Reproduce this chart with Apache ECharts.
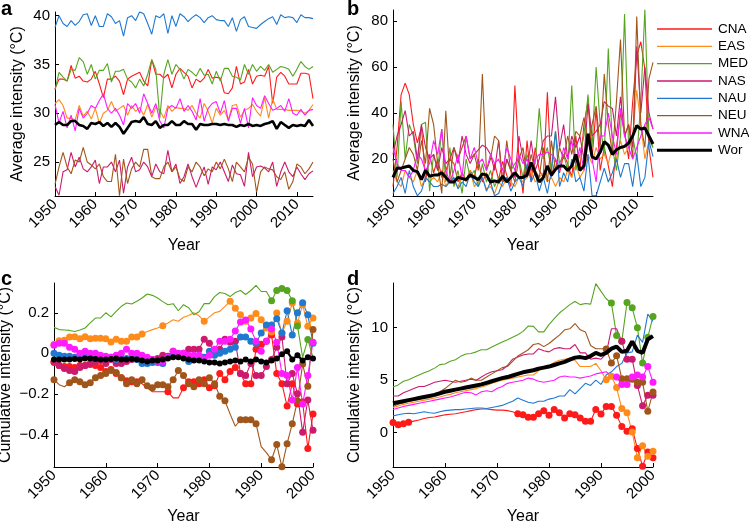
<!DOCTYPE html>
<html><head><meta charset="utf-8">
<script src="https://cdn.jsdelivr.net/npm/echarts@6/dist/echarts.min.js"></script>
<style>html,body{margin:0;padding:0;background:#fff}#chart{width:749px;height:522px}</style>
</head><body><div id="chart"></div>
<script>
const regions = ['CNA','EAS','MED','NAS','NAU','NEU','WNA','Wor'];
const regionColors = ['#ff1a1a','#ff8c1a','#56a520','#cc1a6e','#1f78d1','#a0561a','#ff1aff','#000000'];

// Panel a: average intensity (°C), 1950-2014
const aCNA=[32.5,33.5,33.5,33.3,34.9,33.6,33.8,33.3,33.2,33.5, 34.3,33.0,31.6,33.5,33.5,33.8,33.3,31.9,33.5,33.8, 34.0,34.2,33.3,32.8,35.5,34.0,34.0,33.6,34.0,32.6, 34.0,34.6,34.2,33.8,32.6,33.5,33.2,33.6,34.5,33.6, 33.7,33.6,32.1,32.0,32.6,34.8,33.0,33.2,34.5,33.0, 33.8,33.9,33.8,34.8,31.0,33.7,34.2,33.8,33.0,33.0, 33.0,34.1,34.1,34.0,31.5];
const aEAS=[31.0,31.4,30.8,29.5,29.5,29.3,30.8,29.7,30.2,29.4, 30.5,29.0,30.0,30.3,31.2,30.2,30.5,30.8,29.8,30.8, 30.2,30.6,29.8,30.9,29.6,30.6,30.3,29.5,30.8,30.2, 30.6,30.5,30.5,30.3,30.8,30.0,29.5,31.0,30.2,29.0, 30.5,29.8,30.3,29.3,30.8,30.9,29.6,30.3,30.5,30.9, 30.2,29.7,31.6,29.5,31.5,30.4,30.4,30.4,30.3,30.3, 30.3,30.2,30.0,30.3,30.9];
const aMED=[32.4,34.2,33.7,33.3,34.5,34.4,35.7,35.3,34.0,35.0, 33.5,34.4,34.4,35.1,33.2,34.3,34.3,34.5,33.5,33.2, 32.6,33.5,32.8,34.0,35.5,34.5,29.5,34.0,35.5,34.0, 35.0,34.5,33.5,34.5,34.2,33.8,34.6,33.9,34.0,33.0, 34.3,33.3,34.6,34.6,33.8,33.7,33.4,35.0,34.0,35.0, 34.3,34.8,34.4,35.0,34.2,34.5,34.8,34.7,34.5,33.8, 34.5,35.3,34.8,34.5,34.8];
const aNAS=[22.5,21.6,24.0,24.2,26.0,24.5,25.5,24.3,24.0,24.5, 25.2,22.8,24.5,24.5,25.0,24.0,25.2,21.8,24.5,25.5, 24.0,24.2,25.0,24.5,23.5,24.8,24.0,23.8,26.2,24.0, 24.8,22.8,23.5,24.8,23.5,22.4,23.5,24.5,22.7,24.5, 24.2,25.0,24.0,23.0,24.7,23.8,23.7,22.5,26.0,23.5, 24.5,24.6,24.4,24.0,25.0,22.5,24.0,25.0,24.0,23.5, 24.5,23.8,23.2,23.8,24.1];
const aNAU=[38.8,40.0,39.2,38.9,39.5,39.0,39.4,40.1,40.2,39.0, 40.0,38.9,38.9,40.2,39.9,39.2,39.5,37.9,39.8,40.0, 39.5,40.4,40.2,39.2,38.1,40.0,39.8,40.2,38.2,40.0, 38.9,40.2,39.9,39.4,39.8,40.1,39.8,39.3,39.8,40.0, 39.6,39.5,39.5,38.9,39.8,38.4,39.6,39.9,38.9,38.8, 38.7,39.1,39.4,39.7,39.9,39.1,40.1,39.8,39.9,39.8, 39.3,40.1,39.8,39.8,39.7];
const aNEU=[22.7,24.5,26.0,24.5,23.8,25.2,25.0,26.5,25.0,24.7, 24.3,24.8,23.5,23.0,23.0,25.8,21.55,25.3,22.8,24.3, 25.0,24.5,26.3,26.3,23.5,23.3,23.3,24.5,25.0,24.0, 24.5,23.3,23.0,24.5,24.0,25.0,24.5,23.6,24.3,24.0, 25.0,24.3,25.3,24.3,23.0,25.0,24.5,24.0,25.5,24.8, 21.9,24.0,24.5,24.3,24.2,23.5,23.2,24.0,22.2,23.0, 24.8,24.5,23.8,24.3,25.0];
const aWNA=[30.9,29.0,30.2,28.5,29.8,28.2,30.5,29.5,30.0,30.8, 30.5,31.3,32.0,30.5,30.0,30.5,29.8,28.8,31.0,30.5, 31.0,30.0,32.0,31.0,30.0,31.0,29.2,28.5,30.5,30.8, 30.5,31.5,30.2,30.8,30.2,29.3,31.5,29.2,30.5,31.0, 31.2,30.0,31.3,29.2,30.5,30.5,29.0,30.5,28.5,31.6, 30.8,30.5,31.8,31.0,30.3,30.5,30.8,30.2,31.5,30.0, 29.8,30.4,29.8,30.3,30.4];
const aWor=[28.8,29.1,28.8,28.8,29.2,29.2,28.8,28.7,28.4,29.0, 28.9,29.1,28.7,29.0,28.6,29.0,28.6,27.9,28.5,29.1, 29.2,29.1,29.6,28.9,28.8,29.2,28.5,28.8,28.8,29.2, 28.8,28.8,29.2,28.9,28.9,28.3,28.9,28.8,28.8,28.9, 28.9,28.8,28.9,28.8,28.8,28.6,28.8,28.7,28.9,28.7, 28.8,28.7,28.9,29.0,29.2,28.4,29.1,28.8,28.5,28.8, 28.7,28.8,28.7,29.3,28.7];

// Panel b: average intensity (°C), 1950-2014
const bCNA=[8,25,48,53,48,35,27,34,10,22, 14,20,12,15,20,18,10,14,11,15, 12,20,10,14,9,18,11,19,13,8, 52,20,5,28,10,25,15,12,49,12, 20,14,22,18,12,30,15,35,45,20, 42,15,25,17,8,25,40,32,20,45, 65,71,59,25,12];
const bEAS=[15,10,8,15,12,10,15,8,12,10, 12,10,15,8,12,10,8,12,10,15, 8,10,12,7,8,5,10,8,12,10, 8,12,10,12,15,10,12,14,10,12, 8,12,10,15,12,18,12,15,22,18, 25,20,22,18,25,20,28,22,25,30, 50,35,20,28,25];
const bMED=[35,12,45,20,35,30,18,35,36,6, 22,15,33,10,25,8,15,5,20,12, 15,8,18,10,15,8,12,10,20,15, 18,20,12,22,15,18,42,20,25,15, 32,18,22,15,52,15,22,30,48,25, 60,35,22,68,25,15,30,83,25,30, 20,45,85,30,25];
const bNAS=[22,30,35,41,30,32,20,35,25,20, 22,15,25,18,20,25,18,30,22,18, 22,24,26,25,22,15,28,10,20,15, 12,30,20,15,28,15,20,28,30,30, 47,25,35,20,30,25,30,20,44,30, 32,35,45,43,42,30,47,30,35,25, 69,40,60,40,33];
const bNAU=[5,8,12,5,15,8,4,6,12,10, 8,8,9,8,10,12,7,10,8,14, 10,8,12,6,10,4,5,10,12,6, 10,12,8,18,10,14,6,12,5,15, 32,8,14,10,20,10,12,6,22,4, 4,10,16,10,14,20,12,18,18,8, 22,8,12,28,21];
const bNEU=[20,10,15,20,25,22,15,28,18,42, 35,18,5,41,12,25,20,25,30,20, 22,15,57,15,20,30,28,10,28,15, 10,20,25,12,22,15,12,25,10,28, 15,25,20,30,22,32,30,38,28,35, 43,25,57,35,22,45,72,30,35,20, 82,35,25,55,62];
const bWNA=[25,18,15,15,12,15,22,20,15,18, 28,22,33,15,10,15,22,12,30,20, 25,18,20,15,22,18,20,15,25,20, 15,22,18,20,15,20,22,22,23,22, 20,15,25,20,28,18,25,15,28,20, 10,30,30,40,30,22,42,30,25,20, 25,30,35,38,33];
const bWor=[12,16,16,16.5,17,15,14.5,11,15,12.5, 13,13,14,12,10,10,12,11.5,11,13, 12,11,13.5,13,10,10.5,10,12.5,10,12, 14,12,12,13,18.5,14,10,12,17,13, 15.5,17,17,15,17,22,15,17,31,21, 20,23,27.5,26,22,24,25,25.5,27,30, 34.5,33,33.5,30,26.5];

// Panel c: cumulative intensity (°C), 1950-2000
const cCNA=[-0.045,-0.06,-0.065,-0.065,-0.07,-0.06,-0.06,-0.055,-0.06,-0.07, -0.09,-0.08,-0.1,-0.12,-0.135,-0.14,-0.14,-0.15,-0.17,-0.19, -0.19,-0.19,-0.19,-0.22,-0.22,-0.17,-0.14,-0.14,-0.15,-0.13, -0.17,-0.16,-0.1,-0.13,-0.09,-0.07,-0.1,-0.15,-0.15,0.02, 0.045,0.06,0.09,-0.1,-0.15,-0.26,-0.15,-0.25,-0.24,-0.47, -0.3];
const cEAS=[0.045,0.062,0.065,0.08,0.082,0.072,0.082,0.072,0.074,0.074, 0.072,0.056,0.07,0.059,0.059,0.08,0.08,0.095,0.108,0.117, 0.125,0.136,0.15,0.166,0.158,0.178,0.187,0.2,0.185,0.158, 0.18,0.2,0.207,0.232,0.257,0.223,0.19,0.158,0.174,0.197, 0.166,0.125,0.105,0.199,0.1,0.158,0.248,0.15,0.24,0.133, 0.174];
const cMED=[0.128,0.117,0.115,0.113,0.108,0.115,0.125,0.15,0.174,0.175, 0.2,0.18,0.207,0.232,0.248,0.243,0.257,0.273,0.293,0.286, 0.273,0.255,0.24,0.245,0.21,0.24,0.225,0.19,0.205,0.245, 0.245,0.28,0.3,0.295,0.28,0.3,0.31,0.29,0.31,0.335, 0.305,0.305,0.26,0.31,0.32,0.31,0.26,0.135,-0.02,0.068, -0.02];
const cNAS=[-0.04,-0.06,-0.075,-0.085,-0.09,-0.07,-0.06,-0.05,-0.04,-0.035, -0.05,-0.03,-0.05,-0.05,-0.04,-0.03,-0.02,-0.02,-0.04,-0.03, -0.025,-0.01,-0.015,0.01,-0.005,0.0,0.02,0.02,0.02,0.07, 0.05,0.0,0.02,0.07,0.055,0.06,-0.1,-0.11,-0.05,-0.11, -0.11,-0.065,-0.03,0.03,0.08,-0.15,-0.1,-0.2,-0.39,-0.23, -0.38];
const cNAU=[0.0,-0.01,-0.015,-0.015,-0.02,-0.02,-0.015,-0.02,-0.02,-0.025, -0.02,-0.02,-0.03,-0.025,-0.025,-0.025,-0.03,-0.05,-0.05,-0.045, -0.045,-0.05,-0.02,-0.005,-0.01,-0.02,-0.04,-0.03,-0.01,-0.02, 0.01,-0.01,0.0,0.01,0.02,0.03,0.08,0.08,0.06,0.05, 0.1,0.14,0.14,0.17,0.1,0.21,0.09,0.2,0.25,0.19, 0.05];
const cNEU=[-0.13,-0.155,-0.165,-0.145,-0.13,-0.14,-0.155,-0.145,-0.12,-0.11, -0.1,-0.085,-0.095,-0.12,-0.15,-0.13,-0.15,-0.13,-0.16,-0.17, -0.155,-0.155,-0.165,-0.13,-0.085,-0.11,-0.15,-0.165,-0.13,-0.15, -0.12,-0.15,-0.212,-0.234,-0.3,-0.36,-0.328,-0.328,-0.328,-0.347, -0.46,-0.49,-0.525,-0.45,-0.56,-0.446,-0.347,-0.234,-0.053,-0.163, 0.117];
const cWNA=[0.04,0.05,0.05,0.03,0.02,0.0,0.01,0.0,0.0,-0.01, -0.015,-0.02,-0.01,0.0,0.02,0.0,0.0,-0.01,-0.02,-0.03, -0.04,-0.04,-0.02,0.01,0.0,0.0,-0.01,-0.01,-0.01,-0.03, -0.01,0.02,0.06,0.06,0.07,0.11,0.155,0.165,0.12,0.06, 0.01,0.06,0.12,0.055,-0.1,-0.11,-0.23,-0.07,-0.25,-0.11, 0.055];
const cWor=[-0.03,-0.03,-0.03,-0.03,-0.028,-0.03,-0.025,-0.025,-0.028,-0.03, -0.03,-0.028,-0.025,-0.03,-0.03,-0.028,-0.03,-0.035,-0.04,-0.035, -0.035,-0.03,-0.025,-0.02,-0.02,-0.025,-0.03,-0.035,-0.035,-0.04, -0.045,-0.045,-0.05,-0.045,-0.04,-0.035,-0.04,-0.03,-0.04,-0.03, -0.04,-0.045,-0.035,-0.025,-0.005,0.01,-0.03,-0.01,-0.035,-0.02, -0.025];

// Panel d: cumulative intensity (°C), 1950-2000
const dCNA=[0.98,0.76,0.86,1.0,1.1,1.2,1.35,1.45,1.5,1.6, 1.7,1.75,1.8,1.9,2.0,2.1,2.2,2.25,2.25,2.2, 2.15,2.15,2.1,2.0,1.8,1.7,1.46,1.46,1.8,2.1, 1.65,2.2,1.9,1.4,1.8,1.7,1.4,1.08,1.08,2.2, 1.78,2.5,2.5,1.65,0.6,0.13,0.38,-1.5,-3.2,-1.84, -2.4];
const dEAS=[2.4,2.55,2.7,2.8,2.9,3.0,3.1,3.2,3.3,3.4, 3.55,3.65,3.8,3.9,4.0,4.1,4.2,4.35,4.5,4.7, 4.85,5.0,5.1,5.2,5.3,5.4,5.5,5.5,5.9,6.2, 6.4,6.7,6.9,7.0,7.1,6.9,6.3,6.3,6.3,6.6, 5.9,5.05,5.37,4.3,2.3,1.9,0.06,-2.4,-1.24,-2.25, -1.78];
const dMED=[4.35,4.55,4.9,5.05,5.27,5.5,5.7,5.9,6.15,6.48, 6.54,6.8,6.95,7.27,7.5,7.55,7.7,7.9,7.9,8.16, 8.4,8.63,8.86,9.1,9.33,9.65,10.16,10.13,9.6,9.6, 10.3,10.86,11.4,11.8,12.2,12.5,12.2,12.3,12.25,14.2, 13.46,12.76,12.35,9.27,8.7,12.4,11.9,10.0,6.63,9.08, 11.08];
const dNAS=[3.5,3.5,3.8,4.0,4.2,4.4,4.4,4.6,4.8,4.9, 5.0,4.9,4.8,4.9,5.0,5.1,5.0,5.3,5.6,5.8, 5.9,6.0,6.4,7.0,7.2,7.4,7.5,7.5,8.0,7.8, 7.7,8.0,8.1,8.0,8.0,8.4,7.6,7.6,7.0,7.1, 7.0,7.5,9.9,9.9,8.7,7.0,7.0,4.5,2.57,3.56, 3.56];
const dNAU=[1.6,1.7,1.8,1.85,1.8,1.9,2.0,1.9,1.85,2.0, 2.1,2.15,2.2,2.2,2.25,2.3,2.35,2.35,2.3,2.4, 2.5,2.6,2.8,3.0,3.3,3.1,2.9,2.8,3.0,3.0, 3.2,3.3,3.5,3.5,4.1,3.7,4.2,4.7,4.5,5.0, 4.6,5.5,5.8,6.3,6.6,7.6,7.7,9.3,8.6,11.3, 10.6];
const dNEU=[2.5,2.7,2.85,3.0,3.1,3.2,3.35,3.5,3.7,3.9, 4.2,4.6,5.0,4.8,4.9,5.2,5.0,5.0,5.3,5.6, 5.9,6.2,6.3,6.8,7.3,7.6,7.9,8.4,8.5,8.2, 8.5,8.9,9.3,9.8,9.9,10.4,9.8,9.6,8.3,8.0, 8.0,7.97,6.63,7.33,5.14,5.14,5.1,4.8,4.8,2.03, 3.87];
const dWNA=[2.2,2.35,2.5,2.6,2.7,2.8,2.9,3.0,3.1,3.2, 3.3,3.4,3.55,3.7,3.85,3.8,3.6,3.9,4.0,3.9, 4.2,4.4,4.7,4.8,4.9,5.0,5.2,5.1,4.9,4.8, 4.9,5.0,5.3,5.4,5.3,5.3,5.2,5.3,5.4,5.6, 5.7,5.8,5.4,5.3,4.6,4.6,5.3,5.5,5.3,6.3, 4.8];
const dWor=[2.8,2.9,3.0,3.1,3.2,3.3,3.4,3.5,3.6,3.75, 3.9,4.0,4.1,4.2,4.3,4.4,4.5,4.6,4.75,4.9, 5.05,5.2,5.3,5.45,5.6,5.75,5.85,5.95,6.1,6.2, 6.3,6.45,6.6,6.75,6.95,7.15,7.2,7.1,7.3,7.6, 7.4,7.6,8.0,8.2,7.7,7.8,8.7,7.8,7.6,8.9, 9.2];

// Years carrying a filled dot (inclusive ranges)
const cDots = {CNA:[[1950,1966],[1972,1972],[1975,2000]], EAS:[[1950,1967],[1971,1971],[1979,1979],[1984,2000]], MED:[[1992,1997],[1999,1999]], NAS:[[1950,2000]], NAU:[[1950,2000]], NEU:[[1950,1950],[1953,1983],[1986,1989],[1992,2000]], WNA:[[1950,2000]], Wor:[[1950,2000]]};
const dDots = {CNA:[[1950,1953],[1974,2000]], EAS:[[1991,2000]], MED:[[1992,2000]], NAS:[[1994,2000]], NAU:[], NEU:[[1991,2000]], WNA:[[1993,2000]], Wor:[]};

const yTicksA=[25,30,35,40], yTicksB=[20,40,60,80], yTicksC=[-0.4,-0.2,0,0.2], yTicksD=[0,5,10];
const xTicksAB=[1950,1960,1970,1980,1990,2000,2010], xTicksCD=[1950,1960,1970,1980,1990,2000];

const FONT='Liberation Sans, Arial, Helvetica, sans-serif';
const panelA=[aCNA,aEAS,aMED,aNAS,aNAU,aNEU,aWNA,aWor];
const panelB=[bCNA,bEAS,bMED,bNAS,bNAU,bNEU,bWNA,bWor];
const panelC=[cCNA,cEAS,cMED,cNAS,cNAU,cNEU,cWNA,cWor];
const panelD=[dCNA,dEAS,dMED,dNAS,dNAU,dNEU,dWNA,dWor];

function inRanges(y, ranges){ return ranges.some(r => y>=r[0] && y<=r[1]); }
function mkSeries(gi, idx, vals, dots, worWidth){
  const name=regions[idx], col=regionColors[idx], isWor = name==='Wor';
  const base = {type:'line', name, xAxisIndex:gi, yAxisIndex:gi,
    lineStyle:{color:col, width: isWor?worWidth:1.1}, itemStyle:{color:col},
    emphasis:{disabled:true}, z: isWor?5:2, silent:true, clip:true};
  if (!dots) {
    return Object.assign(base, {data: vals.map((v,i)=>[1950+i, v]), symbol:'none', showSymbol:false});
  }
  const data = vals.map((v,i)=>{
    const yr=1950+i;
    const dot = inRanges(yr, dots[name]);
    return {value:[yr,v], symbol: dot?'circle':'none', symbolSize: isWor?6:7};
  });
  return Object.assign(base, {data, symbol:'circle', symbolSize:7, showSymbol:true, showAllSymbol:true});
}
const series=[];
[[0,panelA,null,2.6],[1,panelB,null,3],[2,panelC,cDots,2.2],[3,panelD,dDots,4]].forEach(([gi,arrs,dots,ww])=>{
  arrs.forEach((vals,idx)=>series.push(mkSeries(gi,idx,vals,dots,ww)));
});

const fmt = v => (v===0?'0':String(v).replace('-','\u2212'));
function xAx(gi,max,ticks){
  return {type:'value', gridIndex:gi, min:1950, max:max, name:'Year', nameLocation:'middle', nameGap:42,
    nameTextStyle:{fontSize:16,color:'#000',fontFamily:FONT},
    axisLine:{show:true,onZero:false,lineStyle:{color:'#000',width:1}},
    axisTick:{show:true,inside:true,length:4,customValues:ticks,lineStyle:{color:'#000'}},
    axisLabel:{rotate:45,fontSize:15,color:'#000',fontFamily:FONT,margin:6,customValues:ticks,formatter:v=>String(v)},
    splitLine:{show:false}};
}
function yAx(gi,min,max,ticks,name,gap){
  return {type:'value', gridIndex:gi, min, max, name, nameLocation:'middle', nameGap:gap,
    nameTextStyle:{fontSize:16,color:'#000',fontFamily:FONT},
    axisLine:{show:true,onZero:false,lineStyle:{color:'#000',width:1}},
    axisTick:{show:true,inside:true,length:4,customValues:ticks,lineStyle:{color:'#000'}},
    axisLabel:{fontSize:15,color:'#000',fontFamily:FONT,margin:5,customValues:ticks,formatter:fmt},
    splitLine:{show:false}};
}

// Legend drawn as graphic line + label pairs (one per region)
const legendGraphics = [];
regions.forEach((name,i)=>{
  const y = 29 + i*17.33;
  legendGraphics.push({type:'line', shape:{x1:657,y1:y,x2:712,y2:y}, style:{stroke:regionColors[i], lineWidth: name==='Wor'?3:1.3}, silent:true});
  legendGraphics.push({type:'text', x:718, y:y, style:{text:name, font:'13.5px '+FONT, fill:'#000', verticalAlign:'middle', align:'left'}, silent:true});
});

const option={
  animation:false,
  backgroundColor:'#fff',
  grid:[
    {left:55,top:12,width:258,height:184,containLabel:false,outerBoundsMode:'none'},
    {left:393,top:10,width:260,height:186,containLabel:false,outerBoundsMode:'none'},
    {left:54,top:283,width:259,height:184,containLabel:false,outerBoundsMode:'none'},
    {left:393,top:283,width:260,height:184,containLabel:false,outerBoundsMode:'none'}
  ],
  xAxis:[xAx(0,2014,xTicksAB),xAx(1,2014,xTicksAB),xAx(2,2000,xTicksCD),xAx(3,2000,xTicksCD)],
  yAxis:[
    yAx(0,21.52,40.38,yTicksA,'Average intensity (°C)',29),
    yAx(1,3.9,84.8,yTicksB,'Average intensity (°C)',30),
    yAx(2,-0.561,0.347,yTicksC,'Cumulative intensity (°C)',40),
    yAx(3,-3.27,14.26,yTicksD,'Cumulative intensity (°C)',30)
  ],
  graphic:[
    {type:'text',x:1,y:19,style:{text:'a',font:'bold 20px '+FONT,fill:'#000',verticalAlign:'bottom'}},
    {type:'text',x:347,y:19,style:{text:'b',font:'bold 20px '+FONT,fill:'#000',verticalAlign:'bottom'}},
    {type:'text',x:1,y:289,style:{text:'c',font:'bold 20px '+FONT,fill:'#000',verticalAlign:'bottom'}},
    {type:'text',x:347,y:289,style:{text:'d',font:'bold 20px '+FONT,fill:'#000',verticalAlign:'bottom'}}
  ].concat(legendGraphics),
  series
};
const chart=echarts.init(document.getElementById('chart'),null,{renderer:'canvas'});
chart.setOption(option);
</script>
</body></html>
